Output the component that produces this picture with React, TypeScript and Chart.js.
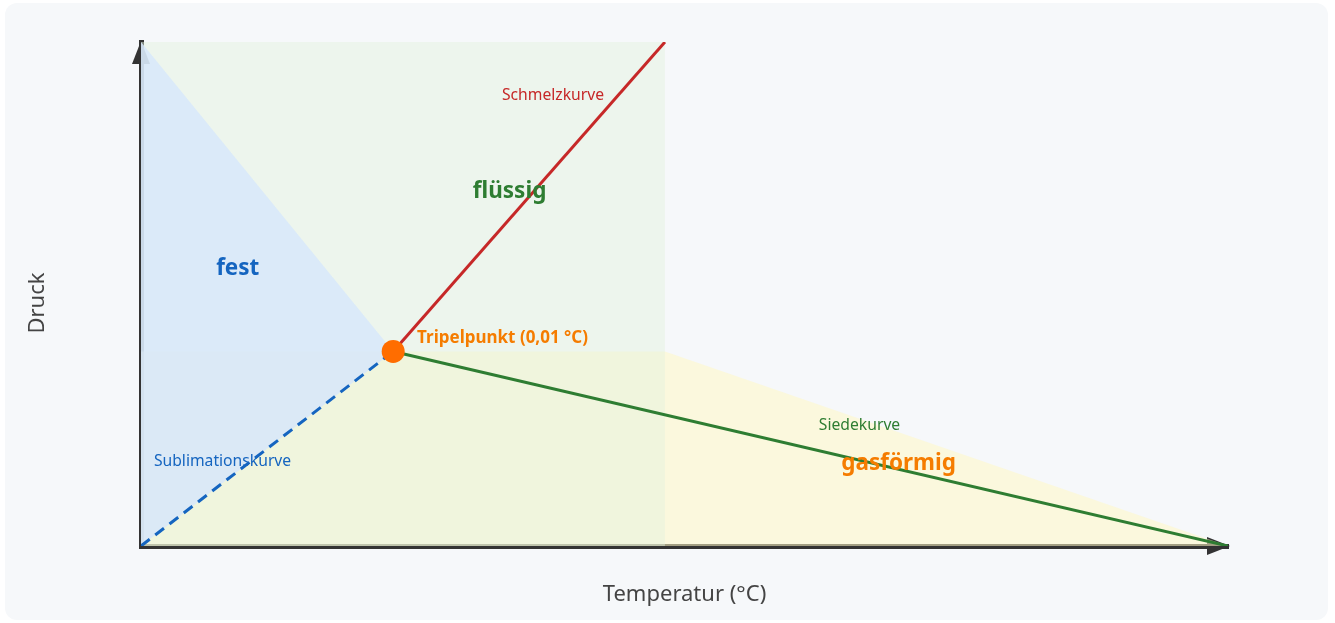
import React, { useEffect, useRef } from "react";
import { Chart, registerables } from "chart.js";
Chart.register(...registerables);

// Axis ranges (arbitrary schematic units)
const xRange = [0, 100];
const yRange = [0, 100];

// Phase boundary curves
const triplePoint = [{ x: 23.2, y: 38.6 }];
const meltingCurve = [{ x: 23.2, y: 38.6 }, { x: 48.2, y: 100 }];
const boilingCurve = [{ x: 23.2, y: 38.6 }, { x: 100, y: 0 }];
const sublimationCurve = [{ x: 0, y: 0 }, { x: 23.2, y: 38.6 }];

// Phase regions
const solidUpperEdge = [{ x: 0, y: 100 }, { x: 23.2, y: 38.6 }]; // filled down to the sublimation curve
const liquidRegion = [{ x: 0, y: 100 }, { x: 48.2, y: 100 }];
const gasRegion = [{ x: 0, y: 38.6 }, { x: 48.2, y: 38.6 }, { x: 100, y: 0 }];

// Text labels (data coordinates)
const labelTexts = ["fest", "flüssig", "gasförmig", "Schmelzkurve", "Siedekurve", "Sublimationskurve", "Tripelpunkt (0,01 °C)"];
const labelX = [8.9, 33.9, 69.7, 37.9, 66.1, 7.5, 25.4];
const labelY = [55.0, 70.3, 16.4, 89.3, 24.0, 16.8, 41.2];

const xTitle = "Temperatur (°C)";
const yTitle = "Druck";

const FONT = "'Noto Sans', 'Open Sans', sans-serif";

const labelStyles = [
  { color: "#1565c0", size: 22.5, weight: "bold", align: "center" },
  { color: "#2e7d32", size: 22.5, weight: "bold", align: "center" },
  { color: "#f57c00", size: 22.5, weight: "bold", align: "center" },
  { color: "#c62828", size: 15.7, weight: "normal", align: "center" },
  { color: "#2e7d32", size: 15.7, weight: "normal", align: "center" },
  { color: "#1565c0", size: 15.7, weight: "normal", align: "center" },
  { color: "#f57c00", size: 17, weight: "bold", align: "left" },
];

const arrowPlugin = {
  id: "axisArrows",
  beforeDatasetsDraw(chart: any) {
    const { ctx, chartArea } = chart;
    ctx.save();
    ctx.fillStyle = "#333";
    ctx.beginPath();
    ctx.moveTo(chartArea.left, chartArea.top - 1);
    ctx.lineTo(chartArea.left - 9, chartArea.top + 22);
    ctx.lineTo(chartArea.left + 9, chartArea.top + 22);
    ctx.closePath();
    ctx.fill();
    ctx.beginPath();
    ctx.moveTo(chartArea.right + 2, chartArea.bottom);
    ctx.lineTo(chartArea.right - 21, chartArea.bottom - 9);
    ctx.lineTo(chartArea.right - 21, chartArea.bottom + 9);
    ctx.closePath();
    ctx.fill();
    // y axis title
    ctx.translate(chartArea.left - 103, (chartArea.top + chartArea.bottom) / 2 + 9);
    ctx.rotate(-Math.PI / 2);
    ctx.font = `22px ${FONT}`;
    ctx.fillStyle = "#444";
    ctx.textAlign = "center";
    ctx.textBaseline = "middle";
    ctx.fillText(yTitle, 0, 0);
    ctx.restore();
  },
};

const labelPlugin = {
  id: "phaseLabels",
  afterDatasetsDraw(chart: any) {
    const { ctx } = chart;
    const xs = chart.scales.x;
    const ys = chart.scales.y;
    ctx.save();
    ctx.textBaseline = "middle";
    labelTexts.forEach((t, i) => {
      const s = labelStyles[i];
      ctx.font = `${s.weight} ${s.size}px ${FONT}`;
      ctx.fillStyle = s.color;
      ctx.textAlign = s.align;
      ctx.fillText(t, xs.getPixelForValue(labelX[i]), ys.getPixelForValue(labelY[i]));
    });
    ctx.restore();
  },
};

export default function App() {
  const ref = useRef<HTMLCanvasElement>(null);
  useEffect(() => {
    if (!ref.current) return;
    const line = (data: any, extra: any) => ({
      data,
      pointRadius: 0,
      pointHoverRadius: 0,
      tension: 0,
      fill: false,
      ...extra,
    });
    const chart = new Chart(ref.current, {
      type: "line",
      data: {
        datasets: [
          line(triplePoint, { pointRadius: 11.5, pointBackgroundColor: "#ff6d00", pointBorderWidth: 0, showLine: false, borderColor: "#ff6d00" }),
          line(meltingCurve, { borderColor: "#c62828", borderWidth: 3 }),
          line(boilingCurve, { borderColor: "#2e7d32", borderWidth: 3 }),
          line(sublimationCurve, { borderColor: "#1565c0", borderWidth: 3, borderDash: [11, 7] }),
          line(solidUpperEdge, { borderWidth: 0, borderColor: "transparent", fill: 3, backgroundColor: "rgba(215,231,250,0.85)" }),
          line(liquidRegion, { borderWidth: 0, borderColor: "transparent", fill: "origin", backgroundColor: "rgba(226,241,221,0.45)" }),
          line(gasRegion, { borderWidth: 0, borderColor: "transparent", fill: "origin", backgroundColor: "rgba(255,248,197,0.55)" }),
        ],
      },
      options: {
        animation: false,
        responsive: false,
        events: [],
        layout: { padding: { left: 22, right: 107, top: 42, bottom: 11 } },
        plugins: { legend: { display: false }, tooltip: { enabled: false } },
        scales: {
          x: {
            type: "linear",
            min: xRange[0],
            max: xRange[1],
            grid: { display: false, drawTicks: false },
            border: { display: true, color: "#333", width: 5 },
            ticks: { display: false },
            title: { display: true, text: xTitle, color: "#444", font: { family: FONT, size: 22 } },
            afterFit: (s: any) => { s.height = 66; },
          },
          y: {
            type: "linear",
            min: yRange[0],
            max: yRange[1],
            grid: { display: false, drawTicks: false },
            border: { display: true, color: "#333", width: 5 },
            ticks: { display: false },
            title: { display: false, text: yTitle },
            afterFit: (s: any) => { s.width = 119; },
          },
        },
      } as any,
      plugins: [arrowPlugin, labelPlugin],
    });
    return () => chart.destroy();
  }, []);

  return (
    <>
      <div style={{ position: "fixed", left: 5, top: 3, width: 1323, height: 617, background: "#f6f8fa", borderRadius: 12 }} />
      <canvas ref={ref} width={1335} height={623} style={{ position: "fixed", left: 0, top: 0, width: 1335, height: 623 }} />
    </>
  );
}
